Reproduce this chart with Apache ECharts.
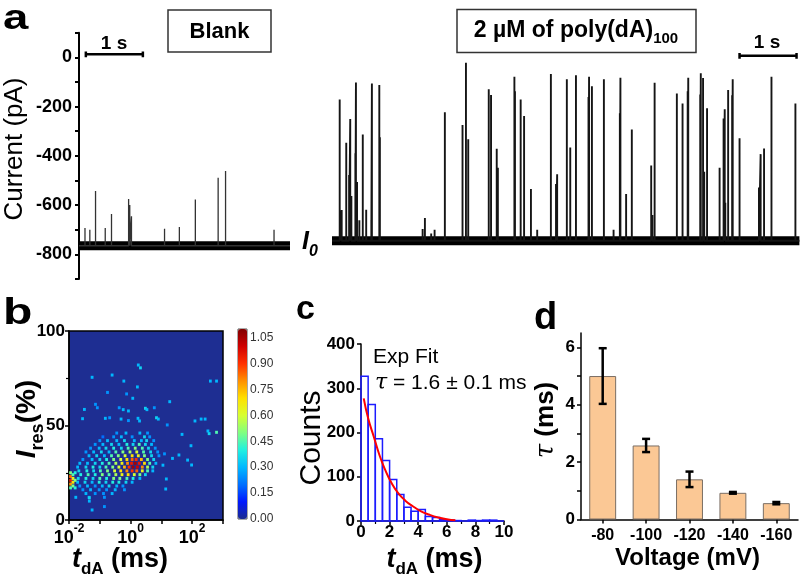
<!DOCTYPE html>
<html><head><meta charset="utf-8">
<script src="https://cdn.jsdelivr.net/npm/echarts@6/dist/echarts.min.js"></script>
<style>html,body{margin:0;padding:0;background:#fff}#c{width:800px;height:577px}</style>
</head><body><div id="c"></div>
<script>
// ---------- panel a : current traces ----------
const blankBase = -765;
const blankEnd = 3.7;
const blankSpikeT = [0.105,0.19,0.29,0.46,0.57,0.87,0.89,0.92,1.5,1.76,2.04,2.44,2.57,3.42];
const blankSpikeI = [-693,-700,-543,-693,-636,-575,-600,-645,-696,-689,-577,-489,-462,-700];
const dnaBase = -745;
const dnaEnd = 8.2;
const dnaSpikeT = [0.135,0.17,0.25,0.30,0.32,0.34,0.41,0.42,0.44,0.48,0.54,0.6,0.69,0.70,0.83,0.84,1.59,1.63,1.74,1.8,1.98,2.29,2.35,2.39,2.75,2.79,2.89,2.91,3.2,3.21,3.31,3.37,3.49,3.6,3.84,3.93,3.95,4.12,4.18,4.28,4.5,4.51,4.56,4.77,4.94,5.05,5.06,5.16,5.26,5.6,5.62,5.66,6.05,6.15,6.24,6.25,6.46,6.47,6.51,6.53,6.58,6.8,6.87,6.89,6.9,6.95,7.02,7.03,7.15,7.49,7.52,7.58,7.71,8.13];
const dnaSpikeI = [-171,-620,-347,-478,-250,-563,-389,-102,-506,-661,-313,-619,-660,-106,-112,-324,-697,-652,-715,-700,-223,-275,-22,-333,-130,-153,-371,-448,-79,-138,-171,-238,-535,-700,-68,-514,-475,-89,-366,-73,-161,-79,-117,-89,-700,-227,-83,-555,-293,-439,-640,-103,-147,-187,-138,-83,-151,-65,-84,-465,-207,-448,-248,-211,-590,-133,-154,-89,-329,-529,-393,-370,-79,-187];
const blankScaleBar = [0.12, 1.12, 12];
const dnaScaleBar = [7.15, 8.15, 6];

// ---------- panel b : 2D histogram ----------
// rows: Ires (%) and cells [log10(t/ms), normalised density]
const heatRowI = [46,44,42,40,38,36,34,32,30,28,26,24,22,20,18,16,14,12];
const heatRowCells = [
 [[-0.45,0.25],[-0.15,0.3],[0.3,0.3],[0.55,0.25]],
 [[-0.9,0.2],[-0.55,0.25],[-0.3,0.3],[0.05,0.25],[0.45,0.35],[0.62,0.25]],
 [[-1.0,0.25],[-0.75,0.3],[-0.45,0.3],[-0.2,0.35],[0.12,0.3],[0.35,0.3],[0.52,0.35],[0.75,0.25]],
 [[-1.15,0.25],[-0.9,0.3],[-0.62,0.35],[-0.38,0.3],[-0.12,0.4],[0.08,0.35],[0.28,0.45],[0.48,0.35],[0.68,0.3]],
 [[-1.3,0.25],[-1.02,0.3],[-0.8,0.35],[-0.55,0.4],[-0.3,0.35],[-0.08,0.45],[0.15,0.5],[0.38,0.45],[0.58,0.35],[0.8,0.25]],
 [[-1.45,0.25],[-1.2,0.3],[-0.95,0.35],[-0.7,0.3],[-0.48,0.45],[-0.25,0.5],[-0.02,0.55],[0.2,0.6],[0.42,0.45],[0.65,0.35],[0.88,0.25]],
 [[-1.35,0.3],[-1.1,0.35],[-0.85,0.3],[-0.62,0.45],[-0.4,0.5],[-0.18,0.6],[0.05,0.7],[0.25,0.65],[0.45,0.5],[0.68,0.35],[0.92,0.25]],
 [[-1.55,0.25],[-1.25,0.3],[-1.0,0.35],[-0.78,0.4],[-0.55,0.5],[-0.32,0.6],[-0.12,0.7],[0.05,0.85],[0.18,0.9],[0.35,0.75],[0.55,0.5],[0.75,0.35]],
 [[-1.65,0.3],[-1.4,0.3],[-1.15,0.35],[-0.92,0.4],[-0.7,0.45],[-0.48,0.55],[-0.28,0.65],[-0.1,0.8],[0.03,0.95],[0.15,1.05],[0.28,0.95],[0.45,0.7],[0.62,0.45],[0.82,0.3]],
 [[-1.72,0.3],[-1.45,0.35],[-1.22,0.4],[-1.0,0.35],[-0.8,0.45],[-0.58,0.5],[-0.38,0.6],[-0.2,0.75],[-0.05,0.9],[0.08,1.05],[0.22,1.0],[0.38,0.8],[0.55,0.55],[0.72,0.35]],
 [[-1.68,0.35],[-1.42,0.4],[-1.2,0.35],[-0.98,0.45],[-0.75,0.5],[-0.52,0.6],[-0.32,0.7],[-0.12,0.8],[0.05,0.9],[0.2,0.85],[0.38,0.65],[0.55,0.45],[0.72,0.3]],
 [[-1.62,0.4],[-1.38,0.45],[-1.15,0.4],[-0.92,0.5],[-0.7,0.45],[-0.48,0.55],[-0.28,0.65],[-0.08,0.7],[0.12,0.6],[0.3,0.5],[0.48,0.35]],
 [[-1.7,0.35],[-1.45,0.4],[-1.22,0.35],[-1.0,0.45],[-0.78,0.4],[-0.55,0.5],[-0.35,0.5],[-0.12,0.45],[0.08,0.4],[0.3,0.3]],
 [[-1.72,0.3],[-1.48,0.35],[-1.25,0.3],[-1.02,0.4],[-0.8,0.35],[-0.58,0.4],[-0.38,0.4],[-0.15,0.35],[0.05,0.3]],
 [[-1.65,0.25],[-1.4,0.3],[-1.15,0.25],[-0.92,0.3],[-0.7,0.35],[-0.45,0.3],[-0.25,0.25]],
 [[-1.55,0.25],[-1.3,0.3],[-1.02,0.25],[-0.78,0.25],[-0.5,0.3],[-0.2,0.25]],
 [[-1.45,0.3],[-1.15,0.25],[-0.88,0.25],[-0.6,0.3]],
 [[-1.78,0.3],[-1.35,0.25],[-0.85,0.25]]
];
const heatEdge = [[-1.95,17,0.45],[-1.95,19,0.8],[-1.95,21,0.95],[-1.95,23,0.85],[-1.95,25,0.5],[-1.87,18,0.5],[-1.87,20,0.7],[-1.87,22,0.65],[-1.87,24,0.45],[-1.8,17,0.4],[-1.8,21,0.5],[-1.8,25,0.4]];
const heatSparse = [[0.25,82,0.3],[0.32,80.5,0.35],[-1.25,75.5,0.3],[-0.6,76.7,0.3],[-0.22,73.5,0.3],[0.22,70.4,0.3],[-0.75,67.5,0.25],[-0.13,66.7,0.25],[0.07,64.4,0.3],[-1.14,61.2,0.25],[-1.08,59.4,0.25],[-1.5,58.5,0.3],[-0.37,59.4,0.25],[-0.24,58.4,0.3],[-0.07,57.7,0.3],[0.48,59.1,0.35],[0.53,58.4,0.3],[0.77,59.4,0.25],[1.27,62.6,0.3],[-1.56,53.6,0.3],[-0.82,53.8,0.3],[-0.68,54.1,0.25],[-0.31,53.4,0.3],[-0.07,52.6,0.25],[0.24,53.8,0.3],[0.29,52.4,0.3],[0.84,54.1,0.35],[0.9,53.4,0.3],[1.19,50.3,0.25],[2.09,52.4,0.3],[2.29,53.4,0.3],[2.42,53.4,0.3],[2.51,47.1,0.3],[2.55,45.7,0.35],[2.79,46.4,0.45],[2.59,73.5,0.3],[2.79,73.5,0.3],[1.67,45.3,0.3],[1.96,39.3,0.3],[1.57,34.4,0.3],[1.36,32.6,0.3],[1.85,31.7,0.3],[1.98,29.1,0.3],[1.16,21.7,0.3],[1.14,16.4,0.3],[1.05,29,0.3],[1.1,35,0.25],[-1.25,5.3,0.3],[-0.85,7.1,0.25],[-1.34,10,0.3],[-1.34,11.8,0.35]];
const colorbarTicks = [0,0.15,0.30,0.45,0.60,0.75,0.90,1.05];

// ---------- panel c : dwell-time histogram ----------
const histBinWidth = 0.5;
const histBinStart = [0,0.5,1,1.5,2,2.5,3,3.5,4,4.5,5,5.5,6,6.5,7,7.5,8,8.5,9,9.5];
const histCounts = [327,263,186,137,94,60,31,22,26,10,8,3,2,1,0,2,1,2,2,0];
const fitT = [0.19,0.5,0.9,1.3,1.7,2.1,2.6,3.1,3.6,4.2,4.8,5.4,6.0,6.6];
const fitCounts = [277,232,190,148,115,88,63,46,34,22,14,8,4,1.5];

// ---------- panel d : tau vs voltage ----------
const voltages = ['-80','-100','-120','-140','-160'];
const tauMean = [5.0,2.58,1.4,0.93,0.57];
const tauErr = [0.97,0.23,0.27,0.03,0.04];

// ---------- build ----------
function traceData(base, ts, vs, tEnd){
  const d=[[0,base]];
  ts.forEach((t,i)=>{ d.push([t,base],[t,vs[i]],[t,base]); });
  d.push([tEnd,base]);
  return d;
}
function scaleBar(sb){
  const [t0,t1,y]=sb;
  return [[t0,y+12],[t0,y-12],[t0,y],[t1,y],[t1,y+12],[t1,y-12]];
}
const heatData=[];
heatRowI.forEach((I,r)=>heatRowCells[r].forEach(c=>heatData.push([c[0],I,c[1]])));
heatEdge.forEach(c=>heatData.push(c));
heatSparse.forEach(c=>heatData.push(c));

const FF = 'Arial, "Liberation Sans", sans-serif';
const BLK = '#000';
const lblBold = (sz, m) => ({fontFamily:FF, fontWeight:'bold', fontSize:sz, color:BLK, margin:m});

const chart = echarts.init(document.getElementById('c'), null, {renderer:'canvas'});

const jet = ['#1c2b8d','#0018ff','#0070ff','#00b8ff','#20f0e0','#80ff80','#d8ff30','#ffe000','#ff9000','#ff3000','#d00000','#800000'];

const option = {
  animation:false,
  backgroundColor:'#fff',
  grid:[
    {left:79, top:32.7, width:211, height:246.3},
    {left:332, top:32.7, width:467.4, height:246.3},
    {left:69, top:331, width:154, height:189, show:true, backgroundColor:'#1e2e92', borderColor:'#000', borderWidth:1.5},
    {left:238, top:329, width:9, height:190},
    {left:361, top:344, width:143, height:177},
    {left:581, top:333, width:217, height:186.5}
  ],
  xAxis:[
    {gridIndex:0, type:'value', min:0, max:blankEnd, show:false},
    {gridIndex:1, type:'value', min:0, max:dnaEnd, show:false},
    {gridIndex:2, type:'value', min:-2, max:3, interval:1,
      axisLine:{show:true, onZero:false, lineStyle:{color:BLK, width:1.5}},
      axisTick:{show:true, length:4, lineStyle:{color:BLK, width:1.5}},
      splitLine:{show:false},
      axisLabel:{margin:3, formatter:v=> (Math.round(v)%2===0 ? '{b|10}{s|'+Math.round(v)+'}{sp|\u200b}' : ''),
        rich:{b:{fontFamily:FF,fontWeight:'bold',fontSize:18,color:BLK,lineHeight:18,verticalAlign:'bottom'},
              s:{fontFamily:FF,fontWeight:'bold',fontSize:12,color:BLK,lineHeight:12,verticalAlign:'top'},
              sp:{fontSize:10,lineHeight:24}}}},
    {gridIndex:3, type:'value', min:0, max:1, show:false},
    {gridIndex:4, type:'value', min:0, max:10, interval:2,
      axisLine:{show:true, onZero:false, lineStyle:{color:BLK, width:1.5}},
      axisTick:{show:true, length:4, lineStyle:{color:BLK, width:1.5}},
      minorTick:{show:true, splitNumber:2, length:3, lineStyle:{color:BLK, width:1.2}},
      splitLine:{show:false}, axisLabel:lblBold(17,3)},
    {gridIndex:5, type:'category', data:voltages,
      axisLine:{show:true, lineStyle:{color:BLK, width:1.5}},
      axisTick:{show:true, alignWithLabel:true, length:4, lineStyle:{color:BLK, width:1.5}},
      axisLabel:Object.assign(lblBold(16,8), {interval:0})}
  ],
  yAxis:[
    {gridIndex:0, type:'value', min:-900, max:100, interval:100,
      axisLine:{show:true, onZero:false, lineStyle:{color:BLK, width:2}},
      axisTick:{show:true, length:4, lineStyle:{color:BLK, width:2}},
      splitLine:{show:false},
      axisLabel:Object.assign(lblBold(18,7), {formatter:v=> (Math.round(v)%200===0 ? String(Math.round(v)) : '')})},
    {gridIndex:1, type:'value', min:-900, max:100, show:false},
    {gridIndex:2, type:'value', min:0, max:100, interval:50,
      axisLine:{show:true, onZero:false, lineStyle:{color:BLK, width:1.5}},
      axisTick:{show:true, length:4, lineStyle:{color:BLK, width:1.5}},
      minorTick:{show:true, splitNumber:2, length:3, lineStyle:{color:BLK, width:1.2}},
      splitLine:{show:false}, axisLabel:lblBold(17,4)},
    {gridIndex:3, type:'value', min:0, max:1.1, interval:0.15, position:'right',
      axisLine:{show:false}, axisTick:{show:false}, splitLine:{show:false},
      axisLabel:{margin:3, fontFamily:FF, fontSize:12, color:'#333', showMaxLabel:false,
        formatter:v=> (colorbarTicks.some(t=>Math.abs(t-v)<1e-6) ? v.toFixed(2) : '')}},
    {gridIndex:4, type:'value', min:0, max:400, interval:100,
      axisLine:{show:true, onZero:false, lineStyle:{color:BLK, width:1.5}},
      axisTick:{show:true, length:4, lineStyle:{color:BLK, width:1.5}},
      splitLine:{show:false}, axisLabel:lblBold(17,6)},
    {gridIndex:5, type:'value', min:0, max:6.5, interval:1,
      axisLine:{show:true, onZero:false, lineStyle:{color:BLK, width:1.5}},
      axisTick:{show:true, length:4, lineStyle:{color:BLK, width:1.5}, customValues:[0,1,2,3,4,5,6]},
      splitLine:{show:false},
      axisLabel:Object.assign(lblBold(17,6), {showMaxLabel:false, formatter:v=> (Math.abs(v-Math.round(v))<1e-6 && Math.round(v)%2===0 ? String(Math.round(v)) : '')})}
  ],
  visualMap:[{
    type:'continuous', seriesIndex:6, dimension:2, min:0, max:1.1,
    inRange:{color:jet}, left:238, top:329, itemWidth:9, itemHeight:190,
    padding:0, calculable:false, hoverLink:false, orient:'vertical', text:null
  }],
  series:[
    {type:'line', xAxisIndex:0, yAxisIndex:0, data:[[0,blankBase],[blankEnd,blankBase]], showSymbol:false, silent:true,
      lineStyle:{color:'#000', width:9}},
    {type:'line', xAxisIndex:0, yAxisIndex:0, data:traceData(blankBase, blankSpikeT, blankSpikeI, blankEnd), showSymbol:false, silent:true,
      lineStyle:{color:'#333', width:1.3}},
    {type:'line', xAxisIndex:0, yAxisIndex:0, data:scaleBar(blankScaleBar), showSymbol:false, silent:true,
      lineStyle:{color:'#000', width:2.5, join:'miter'}},
    {type:'line', xAxisIndex:1, yAxisIndex:1, data:[[0,dnaBase],[dnaEnd,dnaBase]], showSymbol:false, silent:true,
      lineStyle:{color:'#000', width:9}},
    {type:'line', xAxisIndex:1, yAxisIndex:1, data:traceData(dnaBase, dnaSpikeT, dnaSpikeI, dnaEnd), showSymbol:false, silent:true,
      lineStyle:{color:'#151515', width:1.9}},
    {type:'line', xAxisIndex:1, yAxisIndex:1, data:scaleBar(dnaScaleBar), showSymbol:false, silent:true,
      lineStyle:{color:'#000', width:2.5, join:'miter'}},
    {type:'scatter', xAxisIndex:2, yAxisIndex:2, data:heatData, symbol:'rect', symbolSize:[2.8,3], silent:true, clip:true,
      itemStyle:{opacity:1}},
    {type:'scatter', xAxisIndex:3, yAxisIndex:3, data:[], silent:true},
    {type:'custom', xAxisIndex:4, yAxisIndex:4, data:histBinStart.map((b,i)=>[b,histCounts[i]]), silent:true,
      renderItem:(params, api)=>{
        const x0=api.value(0), c=api.value(1);
        const p0=api.coord([x0,c]), p1=api.coord([x0+histBinWidth,0]);
        return {type:'rect', shape:{x:p0[0], y:p0[1], width:p1[0]-p0[0], height:p1[1]-p0[1]},
          style:{fill:null, stroke:'#1c1cff', lineWidth:1.5}};
      }},
    {type:'line', xAxisIndex:4, yAxisIndex:4, data:fitT.map((t,i)=>[t,fitCounts[i]]), smooth:true, showSymbol:false, silent:true,
      lineStyle:{color:'#ff0000', width:2}, z:5},
    {type:'bar', xAxisIndex:5, yAxisIndex:5, data:tauMean, barWidth:'62%', silent:true,
      itemStyle:{color:'#fbc895', borderColor:'#7a6e64', borderWidth:1}},
    {type:'custom', xAxisIndex:5, yAxisIndex:5, data:tauMean.map((m,i)=>[i,m,tauErr[i]]), silent:true, z:5,
      renderItem:(params, api)=>{
        const i=api.value(0), m=api.value(1), e=api.value(2);
        const hi=api.coord([i,m+e]), lo=api.coord([i,m-e]);
        const w=4;
        const st={stroke:'#000', lineWidth:2.5};
        return {type:'group', children:[
          {type:'line', shape:{x1:hi[0],y1:hi[1],x2:lo[0],y2:lo[1]}, style:st},
          {type:'line', shape:{x1:hi[0]-w,y1:hi[1],x2:hi[0]+w,y2:hi[1]}, style:st},
          {type:'line', shape:{x1:lo[0]-w,y1:lo[1],x2:lo[0]+w,y2:lo[1]}, style:st}
        ]};
      }}
  ],
  graphic:[
    {type:'text', x:3, y:19.5, scaleX:1.3, style:{text:'a', font:'bold 35px '+FF, fill:BLK, align:'left', verticalAlign:'middle'}},
    {type:'text', x:3, y:314, scaleX:1.3, style:{text:'b', font:'bold 37px '+FF, fill:BLK, align:'left', verticalAlign:'middle'}},
    {type:'text', x:296, y:310, style:{text:'c', font:'bold 34px '+FF, fill:BLK, align:'left', verticalAlign:'middle'}},
    {type:'text', x:534, y:319, style:{text:'d', font:'bold 38px '+FF, fill:BLK, align:'left', verticalAlign:'middle'}},
    {type:'text', x:15, y:149, rotation:Math.PI/2, style:{text:'Current (pA)', font:'26px '+FF, fill:BLK, align:'center', verticalAlign:'middle'}},
    {type:'rect', shape:{x:168, y:10, width:103, height:42}, style:{fill:'#fff', stroke:'#333', lineWidth:1.5}},
    {type:'text', x:219.5, y:31.5, style:{text:'Blank', font:'bold 22px '+FF, fill:BLK, align:'center', verticalAlign:'middle'}},
    {type:'rect', shape:{x:457, y:9.5, width:239, height:43}, style:{fill:'#fff', stroke:'#333', lineWidth:1.5}},
    {type:'text', x:576, y:32.7, style:{text:'{n|2 \u00b5M of poly(dA)}{s|100}{sp|\u200b}', align:'center', verticalAlign:'middle',
      rich:{n:{font:'bold 23px '+FF, fill:BLK, lineHeight:23, verticalAlign:'top'},
            s:{font:'bold 15px '+FF, fill:BLK, lineHeight:15, verticalAlign:'bottom'},
            sp:{fontSize:10, lineHeight:28}}}},
    {type:'text', x:114, y:44, style:{text:'1 s', font:'bold 19px '+FF, fill:BLK, align:'center', verticalAlign:'middle'}},
    {type:'text', x:767, y:42.5, style:{text:'1 s', font:'bold 19px '+FF, fill:BLK, align:'center', verticalAlign:'middle'}},
    {type:'text', x:302, y:229.6, style:{text:'{i|I}{s|0}{sp|\u200b}', align:'left', verticalAlign:'top',
      rich:{i:{font:'italic bold 25px '+FF, fill:BLK, lineHeight:24, verticalAlign:'top'},
            s:{font:'italic bold 16px '+FF, fill:BLK, lineHeight:14, verticalAlign:'bottom'},
            sp:{fontSize:10, lineHeight:30}}}},
    {type:'text', x:30, y:419, rotation:Math.PI/2, style:{text:'{i|I}{s|res}{n|(%)}{sp|\u200b}', align:'center', verticalAlign:'middle',
      rich:{i:{font:'italic bold 28px '+FF, fill:BLK, lineHeight:28, verticalAlign:'top'},
            s:{font:'bold 18px '+FF, fill:BLK, lineHeight:18, verticalAlign:'bottom'},
            n:{font:'bold 28px '+FF, fill:BLK, lineHeight:28, verticalAlign:'top'},
            sp:{fontSize:10, lineHeight:34}}}},
    {type:'text', x:120, y:562, style:{text:'{t|t}{s|dA}{n| (ms)}{sp|\u200b}', align:'center', verticalAlign:'middle',
      rich:{t:{font:'italic bold 27px '+FF, fill:BLK, lineHeight:26, verticalAlign:'top'},
            s:{font:'bold 17px '+FF, fill:BLK, lineHeight:17, verticalAlign:'bottom'},
            n:{font:'bold 27px '+FF, fill:BLK, lineHeight:26, verticalAlign:'top'},
            sp:{fontSize:10, lineHeight:32}}}},
    {type:'rect', shape:{x:238, y:329, width:9, height:190}, style:{fill:null, stroke:'#555', lineWidth:1}},
    {type:'text', x:312, y:438, rotation:Math.PI/2, style:{text:'Counts', font:'30px '+FF, fill:BLK, align:'center', verticalAlign:'middle'}},
    {type:'text', x:434.5, y:562, style:{text:'{t|t}{s|dA}{n| (ms)}{sp|\u200b}', align:'center', verticalAlign:'middle',
      rich:{t:{font:'italic bold 27px '+FF, fill:BLK, lineHeight:26, verticalAlign:'top'},
            s:{font:'bold 17px '+FF, fill:BLK, lineHeight:17, verticalAlign:'bottom'},
            n:{font:'bold 27px '+FF, fill:BLK, lineHeight:26, verticalAlign:'top'},
            sp:{fontSize:10, lineHeight:32}}}},
    {type:'text', x:373, y:357.6, style:{text:'Exp Fit', font:'21px '+FF, fill:BLK, align:'left', verticalAlign:'middle'}},
    {type:'text', x:375, y:383, style:{text:'{t|\u03c4}{n| = 1.6 \u00b1 0.1 ms}', align:'left', verticalAlign:'middle',
      rich:{t:{font:'italic 22px "DejaVu Serif", serif', fill:BLK}, n:{font:'21px '+FF, fill:BLK}}}},
    {type:'text', x:546, y:420, rotation:Math.PI/2, style:{text:'{t|\u03c4}{n| (ms)}', align:'center', verticalAlign:'middle',
      rich:{t:{font:'italic 26px "DejaVu Serif", serif', fill:BLK}, n:{font:'bold 26px '+FF, fill:BLK}}}},
    {type:'text', x:687.5, y:558, style:{text:'Voltage (mV)', font:'bold 24px '+FF, fill:BLK, align:'center', verticalAlign:'middle'}}
  ]
};
chart.setOption(option);
</script>
</body></html>
